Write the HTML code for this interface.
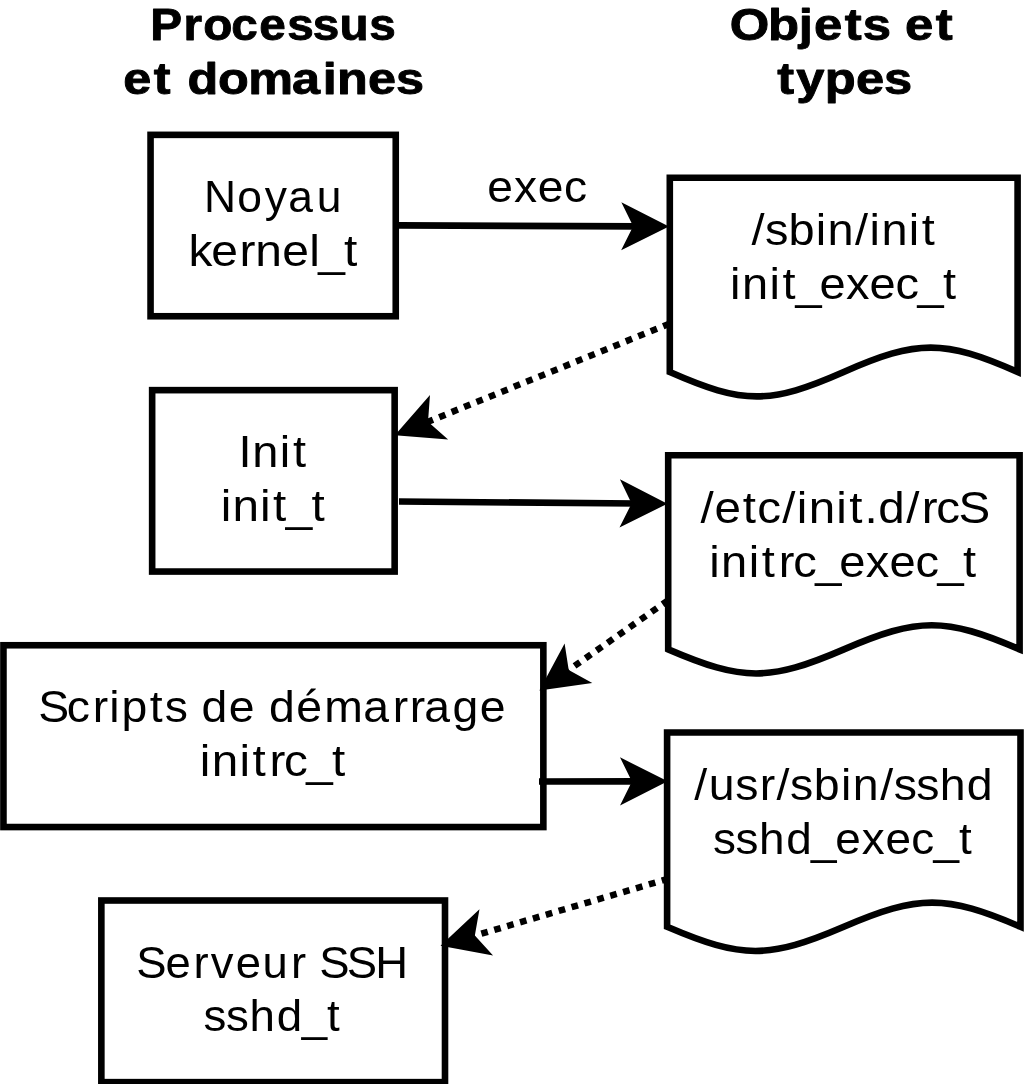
<!DOCTYPE html>
<html lang="fr">
<head>
<meta charset="utf-8">
<title>Processus et domaines / Objets et types</title>
<style>
html,body{margin:0;padding:0;background:#fff;}
body{width:1024px;height:1084px;overflow:hidden;}
svg{display:block;will-change:transform;}
.t{filter:grayscale(1);}
text{font-family:"Liberation Sans",sans-serif;font-size:45px;fill:#000;}
.b{font-weight:bold;stroke:#000;stroke-width:0.9;stroke-linejoin:round;}
.s{fill:#fff;stroke:#000;stroke-width:6.6;stroke-linejoin:miter;stroke-miterlimit:10;}
.l{fill:none;stroke:#000;stroke-width:6.6;stroke-linecap:butt;}
.d{fill:none;stroke:#000;stroke-width:6.5;stroke-dasharray:6.7 6.73;stroke-linecap:butt;}
.h{fill:#000;stroke:none;}
</style>
</head>
<body>
<svg width="1024" height="1084" viewBox="0 0 1024 1084">
<rect x="0" y="0" width="1024" height="1084" fill="#fff"/>
<!-- process / domain boxes -->
<rect class="s" x="150.55" y="134.85" width="245.2" height="181.4"/>
<rect class="s" x="152.15" y="390.15" width="242.5" height="181.4"/>
<rect class="s" x="3.45" y="645.25" width="539.9" height="181.8"/>
<rect class="s" x="101.35" y="900.5" width="343.65" height="181.65"/>
<!-- object / type document shapes -->
<path class="s" d="M669.8 177.75H1017.6V372C943.8 339.47 917.5 339.47 843.7 372C769.9 404.53 743.6 404.53 669.8 372Z"/>
<path class="s" d="M668.2 455.25H1019.6V649.35C945.03 617.22 918.47 617.22 843.9 649.35C769.33 681.48 742.77 681.48 668.2 649.35Z"/>
<path class="s" d="M667.1 732.55H1020.5V926.8C945.51 894.6 918.79 894.6 843.8 926.8C768.81 959 742.09 959 667.1 926.8Z"/>
<!-- solid arrows -->
<line class="l" x1="399" y1="225.4" x2="637.15" y2="226.33"/>
<polygon class="h" points="668.95,226.45 621.34,202.16 633.15,226.31 621.16,250.36"/>
<line class="l" x1="399" y1="501.5" x2="635.6" y2="503.48"/>
<polygon class="h" points="667.4,503.75 619.9,479.25 631.6,503.45 619.5,527.45"/>
<line class="l" x1="539" y1="781.5" x2="635.9" y2="781.39"/>
<polygon class="h" points="667.7,781.35 619.97,757.31 631.9,781.39 620.03,805.51"/>
<!-- dotted arrows -->
<line class="d" x1="669.4" y1="323.7" x2="424.31" y2="423.23"/>
<polygon class="h" points="394.85,435.2 448.11,439.58 428.02,421.73 429.98,394.92"/>
<line class="d" x1="668" y1="600.4" x2="565.43" y2="672.34"/>
<polygon class="h" points="539.4,690.6 592.29,682.94 568.71,670.04 564.61,643.48"/>
<line class="d" x1="668.2" y1="878.8" x2="471.01" y2="936.74"/>
<polygon class="h" points="440.5,945.7 493.06,955.38 474.85,935.61 479.47,909.13"/>
<!-- labels -->
<g class="t">
<text class="b" transform="translate(150.22 40.1) scale(1.06 1)" x="0 31.41 49.93 76.5 102.85 129.2 153.42 178.54 206.62" y="0">Processus</text>
<text class="b" transform="translate(123.28 93.75) scale(1.12 1)" x="0 27.3 44.18 57.42 84.61 111.61 150.66 178.02 190.83 218.57 243.51" y="0">et domaines</text>
<text class="b" transform="translate(729.64 40.1) scale(1.13 1)" x="0 33.97 61.26 74.68 101.9 117.87 141.58 155.22 182.44" y="0">Objets et</text>
<text class="b" transform="translate(777.29 93.75) scale(1.125 1)" x="0 16.77 42.25 69.94 94.9" y="0">types</text>
<text transform="translate(203.96 212) scale(0.987 1)" x="0 33.79 61.62 85.33 114.41" y="0">Noyau</text>
<text transform="translate(188.49 265.8) scale(1.066 1)" x="0 21.33 47.77 62.57 87.86 113.37 121.7 145.82" y="0">kernel_t</text>
<text transform="translate(487.28 201.7) scale(1.026 1)" x="0 26.01 49.29 74.74" y="0">exec</text>
<text transform="translate(751.38 245) scale(1.043 1)" x="0 13.02 35.57 61.71 73.09 99.31 113.28 124.66 150.93 163.38" y="0">/sbin/init</text>
<text transform="translate(730.03 298.8) scale(1.044 1)" x="0 11.43 37.75 50.23 62.64 85.73 111.08 133.71 158.5 179.57 204.1" y="0">init_exec_t</text>
<text transform="translate(238.44 466.8) scale(1.045 1)" x="0 13.15 39.56 52.11" y="0">Init</text>
<text transform="translate(220.64 520.9) scale(1.06 1)" x="0 11.1 37.1 49.34 61.43 85.64" y="0">init_t</text>
<text transform="translate(700.49 522.8) scale(1.056 1)" x="0 13.28 39.92 53.79 77.41 91.24 102.42 128.5 140.8 155.4 168.4 194.74 209.52 223.26 244.43" y="0">/etc/init.d/rcS</text>
<text transform="translate(709.19 576.8) scale(1.047 1)" x="0 11.39 37.67 50.12 66.35 80.28 101.3 124.33 149.63 172.21 196.96 217.98 242.47" y="0">initrc_exec_t</text>
<text transform="translate(38.14 721.6) scale(1.03 1)" x="0 27.82 52.98 69.14 80.96 108.35 122.88 144.74 158.58 185.08 210.38 224.23 250.72 277.79 315.53 344.36 360.84 374.87 402.35 428.84" y="0">Scripts de démarrage</text>
<text transform="translate(199.87 775.9) scale(1.059 1)" x="0 11.23 37.37 49.71 65.78 79.57 100.42 124.76" y="0">initrc_t</text>
<text transform="translate(694.33 800) scale(1.033 1)" x="0 13.92 39.7 63.4 79.49 92.71 115.54 141.89 153.48 179.93 193.15 214.92 237.5 263.73" y="0">/usr/sbin/sshd</text>
<text transform="translate(712.92 853.9) scale(1.02 1)" x="0 22.13 45.11 71.78 96.22 119.9 145.87 169.11 194.53 216.15 241.16" y="0">sshd_exec_t</text>
<text transform="translate(136.14 977.5) scale(1.01 1)" x="0 29.14 56.9 73.81 98.51 125.1 153.43 168.91 181.37 208.58 236.82" y="0">Serveur SSH</text>
<text transform="translate(203.47 1031.4) scale(1.015 1)" x="0 22.24 45.36 72.15 96.72 121.83" y="0">sshd_t</text>
</g>
</svg>
</body>
</html>
